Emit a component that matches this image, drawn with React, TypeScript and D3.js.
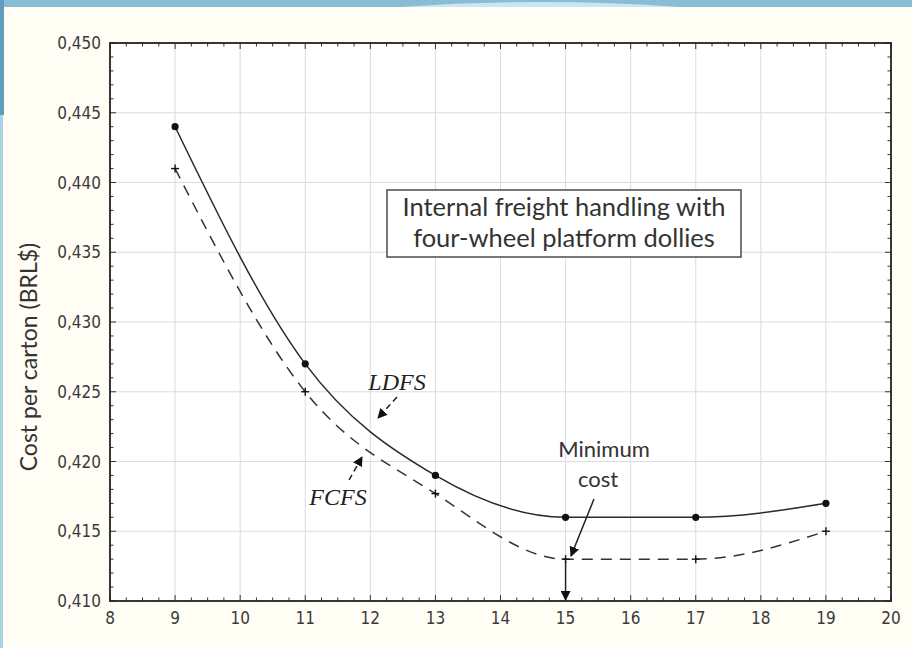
import React, { useRef, useEffect } from "react";
import * as d3 from "d3";

// carton groups (x) and cost per carton for each sequencing rule
const xValues = [9, 11, 13, 15, 17, 19];
const ldfsCost = [0.444, 0.427, 0.419, 0.416, 0.416, 0.417];
const fcfsCost = [0.441, 0.425, 0.4177, 0.413, 0.413, 0.415];
const xTicks = [8, 9, 10, 11, 12, 13, 14, 15, 16, 17, 18, 19, 20];
const yTicks = [0.41, 0.415, 0.42, 0.425, 0.43, 0.435, 0.44, 0.445, 0.45];
const boxLines = ["Internal freight handling with", "four-wheel platform dollies"];

const W = 912;
const H = 648;

const App = () => {
  const svgRef = useRef<SVGSVGElement | null>(null);

  useEffect(() => {
    const svg = d3.select(svgRef.current);
    svg.selectAll("*").remove();

    const margin = { top: 43, right: 21, bottom: 47, left: 110 };
    const x = d3.scaleLinear().domain([8, 20]).range([margin.left, W - margin.right]);
    const y = d3.scaleLinear().domain([0.41, 0.45]).range([H - margin.bottom, margin.top]);
    const [x0, x1] = x.range();
    const [y0, y1] = y.range();

    // page background + slide frame
    svg.append("rect").attr("width", W).attr("height", H).attr("fill", "#fffdf4");
    svg.append("rect").attr("width", W).attr("height", 7).attr("fill", "#88bdd5");
    svg
      .append("path")
      .attr("d", "M400,7 Q540,-3 680,7 Z")
      .attr("fill", "#c9e6f2");
    svg.append("rect").attr("width", 3).attr("height", H).attr("fill", "#a9d2e4");
    svg.append("rect").attr("y", 0).attr("width", 4).attr("height", 115).attr("fill", "#5f9fbd");

    // plot area
    svg
      .append("rect")
      .attr("x", x0)
      .attr("y", y1)
      .attr("width", x1 - x0)
      .attr("height", y0 - y1)
      .attr("fill", "#ffffff");

    // grid
    const grid = svg.append("g").attr("stroke", "#dcdcdc").attr("stroke-width", 1);
    xTicks.slice(1, -1).forEach((t) => {
      grid.append("line").attr("x1", x(t)).attr("x2", x(t)).attr("y1", y1).attr("y2", y0);
    });
    yTicks.slice(1, -1).forEach((t) => {
      grid.append("line").attr("x1", x0).attr("x2", x1).attr("y1", y(t)).attr("y2", y(t));
    });

    // minor + major ticks on all four sides (pointing inward)
    const ticks = svg.append("g").attr("stroke", "#333").attr("stroke-width", 1);
    d3.range(8, 20.001, 0.25).forEach((t) => {
      const major = Math.abs(t - Math.round(t)) < 1e-6;
      const len = major ? 6 : 3.5;
      ticks.append("line").attr("x1", x(t)).attr("x2", x(t)).attr("y1", y0).attr("y2", y0 - len);
      ticks.append("line").attr("x1", x(t)).attr("x2", x(t)).attr("y1", y1).attr("y2", y1 + len);
    });
    d3.range(0.41, 0.45001, 0.001).forEach((t, i) => {
      const len = i % 5 === 0 ? 6 : 3.5;
      ticks.append("line").attr("x1", x0).attr("x2", x0 + len).attr("y1", y(t)).attr("y2", y(t));
      ticks.append("line").attr("x1", x1).attr("x2", x1 - len).attr("y1", y(t)).attr("y2", y(t));
    });

    svg
      .append("rect")
      .attr("x", x0)
      .attr("y", y1)
      .attr("width", x1 - x0)
      .attr("height", y0 - y1)
      .attr("fill", "none")
      .attr("stroke", "#222")
      .attr("stroke-width", 1.8);

    // tick labels
    const tickFont = "'DejaVu Sans Condensed', 'DejaVu Sans', sans-serif";
    svg
      .append("g")
      .selectAll("text")
      .data(xTicks)
      .enter()
      .append("text")
      .attr("x", (d) => x(d))
      .attr("y", y0 + 23)
      .attr("text-anchor", "middle")
      .attr("font-family", tickFont)
      .attr("font-stretch", "condensed")
      .attr("font-size", 17)
      .attr("fill", "#3a3a3a")
      .text((d) => d);
    svg
      .append("g")
      .selectAll("text")
      .data(yTicks)
      .enter()
      .append("text")
      .attr("x", x0 - 9)
      .attr("y", (d) => y(d) + 6)
      .attr("text-anchor", "end")
      .attr("font-family", tickFont)
      .attr("font-stretch", "condensed")
      .attr("font-size", 17)
      .attr("fill", "#3a3a3a")
      .text((d) => d3.format(".3f")(d).replace(".", ","));

    svg
      .append("text")
      .attr("transform", `translate(37,${(y0 + y1) / 2 + 35}) rotate(-90)`)
      .attr("text-anchor", "middle")
      .attr("font-family", "Lato, 'Open Sans', sans-serif")
      .attr("font-size", 23)
      .attr("fill", "#333")
      .text("Cost per carton (BRL$)");

    // series
    const line = d3
      .line<number>()
      .x((_, i) => x(xValues[i]))
      .y((d) => y(d))
      .curve(d3.curveMonotoneX);

    svg
      .append("path")
      .attr("d", line(ldfsCost))
      .attr("fill", "none")
      .attr("stroke", "#2a2a2a")
      .attr("stroke-width", 1.5);
    svg
      .append("path")
      .attr("d", line(fcfsCost))
      .attr("fill", "none")
      .attr("stroke", "#333")
      .attr("stroke-width", 1.5)
      .attr("stroke-dasharray", "11,8");

    svg
      .append("g")
      .selectAll("circle")
      .data(ldfsCost)
      .enter()
      .append("circle")
      .attr("cx", (_, i) => x(xValues[i]))
      .attr("cy", (d) => y(d))
      .attr("r", 3.6)
      .attr("fill", "#111");
    const plus = svg.append("g").attr("stroke", "#111").attr("stroke-width", 1.4);
    fcfsCost.forEach((d, i) => {
      const cx = x(xValues[i]);
      const cy = y(d);
      plus.append("line").attr("x1", cx - 4).attr("x2", cx + 4).attr("y1", cy).attr("y2", cy);
      plus.append("line").attr("x1", cx).attr("x2", cx).attr("y1", cy - 4).attr("y2", cy + 4);
    });

    // annotations
    const defs = svg.append("defs");
    defs
      .append("marker")
      .attr("id", "head")
      .attr("viewBox", "0 0 10 10")
      .attr("refX", 9)
      .attr("refY", 5)
      .attr("markerWidth", 10)
      .attr("markerHeight", 10)
      .attr("markerUnits", "userSpaceOnUse")
      .attr("orient", "auto")
      .append("path")
      .attr("d", "M0,0 L10,5 L0,10 Z")
      .attr("fill", "#111");

    const arrow = (ax: number, ay: number, bx: number, by: number, dash?: string) => {
      svg
        .append("line")
        .attr("x1", ax)
        .attr("y1", ay)
        .attr("x2", bx)
        .attr("y2", by)
        .attr("stroke", "#222")
        .attr("stroke-width", 1.5)
        .attr("stroke-dasharray", dash || null)
        .attr("marker-end", "url(#head)");
    };

    const italic = "'Liberation Serif', 'DejaVu Serif', serif";
    svg
      .append("text")
      .attr("x", 397)
      .attr("y", 390)
      .attr("text-anchor", "middle")
      .attr("font-family", italic)
      .attr("font-style", "italic")
      .attr("font-size", 24)
      .attr("fill", "#222")
      .text("LDFS");
    arrow(397, 397, 378, 418, "6,4");

    svg
      .append("text")
      .attr("x", 338)
      .attr("y", 505)
      .attr("text-anchor", "middle")
      .attr("font-family", italic)
      .attr("font-style", "italic")
      .attr("font-size", 24)
      .attr("fill", "#222")
      .text("FCFS");
    arrow(349, 480, 362, 457, "6,4");

    const sans = "Lato, 'Open Sans', sans-serif";
    svg
      .append("text")
      .attr("x", 604)
      .attr("y", 457)
      .attr("text-anchor", "middle")
      .attr("font-family", sans)
      .attr("font-size", 22)
      .attr("fill", "#333")
      .text("Minimum");
    svg
      .append("text")
      .attr("x", 598)
      .attr("y", 487)
      .attr("text-anchor", "middle")
      .attr("font-family", sans)
      .attr("font-size", 22)
      .attr("fill", "#333")
      .text("cost");
    arrow(594, 499, 571, 556);
    arrow(x(15), y(0.413) + 2, x(15), y0 - 1);

    // title box
    const bx = 387;
    const by = 190;
    svg
      .append("rect")
      .attr("x", bx)
      .attr("y", by)
      .attr("width", 354)
      .attr("height", 67)
      .attr("fill", "#fff")
      .attr("stroke", "#555")
      .attr("stroke-width", 1.6);
    boxLines.forEach((t, i) => {
      svg
        .append("text")
        .attr("x", bx + 177)
        .attr("y", by + 26 + i * 31)
        .attr("text-anchor", "middle")
        .attr("font-family", sans)
        .attr("font-size", 25.5)
        .attr("fill", "#333")
        .text(t);
    });
  }, []);

  return (
    <svg
      ref={svgRef}
      width={W}
      height={H}
      style={{ position: "absolute", left: 0, top: 0, display: "block" }}
    />
  );
};

export default App;
